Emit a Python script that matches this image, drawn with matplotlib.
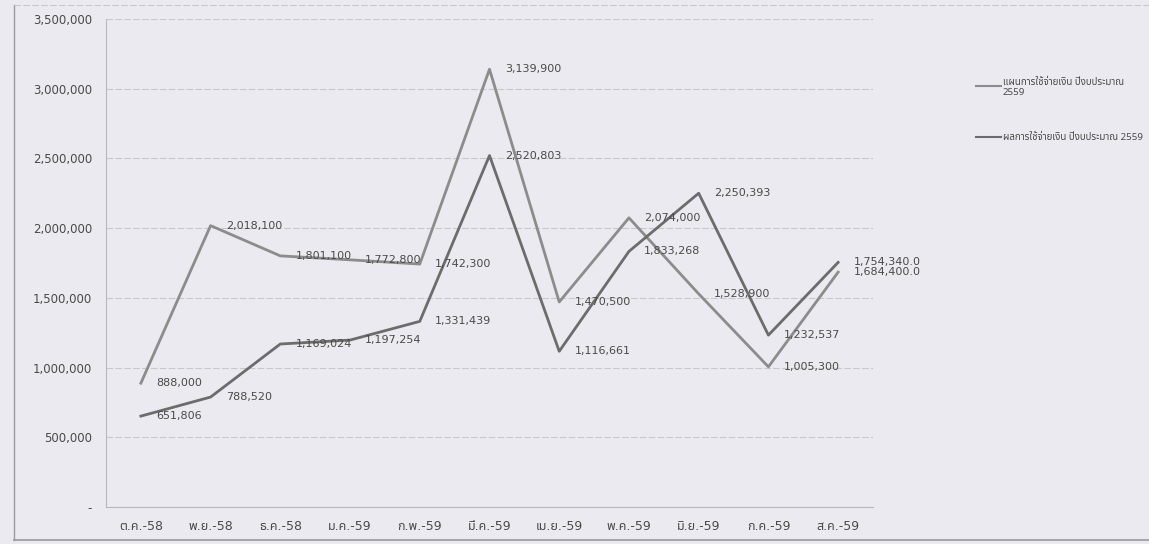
import matplotlib
matplotlib.use('Agg')
import matplotlib.pyplot as plt
from matplotlib.ticker import FuncFormatter
from matplotlib.lines import Line2D

# ฟอนต์: ตัวเลขใช้ DejaVu, ตัวอักษรไทยใช้ฟอนต์ไทยที่มีในเครื่อง
plt.rcParams['font.family'] = ['DejaVu Sans', 'Noto Sans Thai', 'Sarabun', 'Bai Jamjuree']
legend_family = ['Noto Sans Thai', 'Sarabun', 'Bai Jamjuree', 'DejaVu Sans']

# ข้อมูล
months = ['ต.ค.-58', 'พ.ย.-58', 'ธ.ค.-58', 'ม.ค.-59', 'ก.พ.-59', 'มี.ค.-59',
          'เม.ย.-59', 'พ.ค.-59', 'มิ.ย.-59', 'ก.ค.-59', 'ส.ค.-59']
plan = [888000, 2018100, 1801100, 1772800, 1742300, 3139900,
        1470500, 2074000, 1528900, 1005300, 1684400.0]
actual = [651806, 788520, 1169024, 1197254, 1331439, 2520803,
          1116661, 1833268, 2250393, 1232537, 1754340.0]
plan_label = 'แผนการใช้จ่ายเงิน ปีงบประมาณ\n2559'
actual_label = 'ผลการใช้จ่ายเงิน ปีงบประมาณ 2559'
yticks = [0, 500000, 1000000, 1500000, 2000000, 2500000, 3000000, 3500000]

bg = '#ebeaf0'
txt_color = '#4a4a4a'
plan_color = '#8c8c8c'
actual_color = '#6c6c6c'

fig = plt.figure(figsize=(11.49, 5.44), dpi=100, facecolor=bg)
ax = fig.add_axes([106 / 1149, 1 - 507 / 544, (873 - 106) / 1149, (507 - 19) / 544])
ax.set_facecolor(bg)

x = list(range(len(months)))
ax.plot(x, plan, color=plan_color, lw=2)
ax.plot(x, actual, color=actual_color, lw=2)


def fmt_label(i, v):
    if i == len(months) - 1:
        return '{:,.1f}'.format(v)
    return '{:,.0f}'.format(v)


for series in (plan, actual):
    for i, v in enumerate(series):
        ax.annotate(fmt_label(i, v), (i, v), xytext=(11, 0), textcoords='offset points',
                    ha='left', va='center', fontsize=8, color=txt_color)

ax.set_xlim(-0.5, len(months) - 0.5)
ax.set_ylim(0, 3500000)
ax.set_yticks(yticks)
ax.yaxis.set_major_formatter(FuncFormatter(lambda v, p: '-' if v == 0 else '{:,.0f}'.format(v)))
ax.set_xticks(x)
ax.set_xticklabels(months)
ax.tick_params(axis='y', length=0, pad=10, labelsize=8.5, labelcolor=txt_color)
ax.tick_params(axis='x', length=0, pad=9, labelsize=9, labelcolor=txt_color)
ax.grid(axis='y', color='#c8c8cc', lw=0.8, ls=(0, (6, 2)))
ax.set_axisbelow(True)
for s in ['top', 'right']:
    ax.spines[s].set_visible(False)
ax.spines['left'].set_color('#b8b8bc')
ax.spines['bottom'].set_color('#b8b8bc')

# กรอบนอกของแผนภูมิ
fig.add_artist(Line2D([14 / 1149, 14 / 1149], [1 - 5 / 544, 1 - 540 / 544], color='#9a9a9e', lw=1))
fig.add_artist(Line2D([14 / 1149, 1], [1 - 540 / 544, 1 - 540 / 544], color='#9a9a9e', lw=1.2))
fig.add_artist(Line2D([14 / 1149, 1], [1 - 5 / 544, 1 - 5 / 544], color='#c8c8cc', lw=0.8, ls=(0, (6, 2))))

# คำอธิบายสัญลักษณ์
fig.add_artist(Line2D([976 / 1149, 1001 / 1149], [1 - 86 / 544] * 2, color=plan_color, lw=1.5))
fig.text(1003 / 1149, 1 - 78 / 544, plan_label, fontsize=7, color=txt_color, va='top',
         linespacing=1.1, family=legend_family)
fig.add_artist(Line2D([976 / 1149, 1001 / 1149], [1 - 137 / 544] * 2, color=actual_color, lw=1.5))
fig.text(1003 / 1149, 1 - 137 / 544, actual_label, fontsize=7, color=txt_color, va='center',
         family=legend_family)

plt.savefig('out.png', dpi=100, facecolor=bg)
